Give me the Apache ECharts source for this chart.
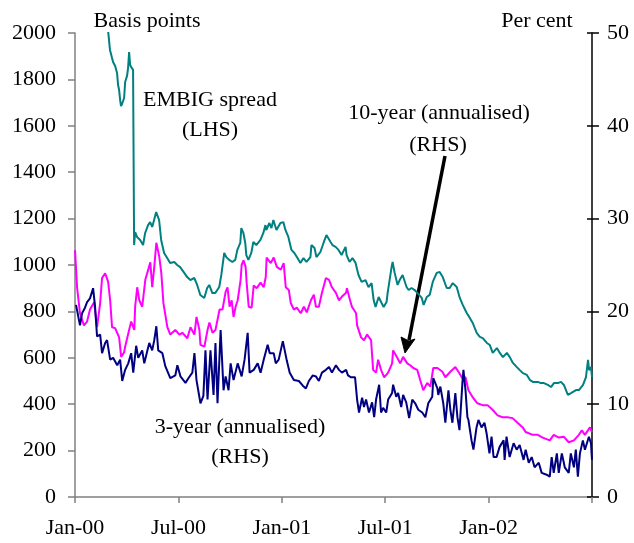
<!DOCTYPE html>
<html>
<head>
<meta charset="utf-8">
<script src="https://cdn.jsdelivr.net/npm/echarts@6/dist/echarts.min.js"></script>
<style>html,body{margin:0;padding:0;background:#fff}#c{width:634px;height:543px}</style>
</head>
<body>
<div id="c"></div>
<script>
// x = months since January 2000
var xTickLabels = ['Jan-00', 'Jul-00', 'Jan-01', 'Jul-01', 'Jan-02', ''];
var leftTickValues = [0, 200, 400, 600, 800, 1000, 1200, 1400, 1600, 1800, 2000];
var rightTickValues = [0, 10, 20, 30, 40, 50];

// EMBIG spread, basis points (LHS)
var embigSpread = [
[1.88,2040],[2.03,1927],[2.15,1892],[2.21,1875],[2.33,1858],[2.44,1828],[2.50,1776],[2.56,1754],[2.62,1711],[2.67,1685],[2.73,1694],[2.85,1720],[2.91,1789],[3.02,1815],[3.08,1849],[3.14,1918],[3.20,1862],[3.26,1853],[3.37,1841],[3.43,1086],
[3.49,1142],[3.60,1121],[3.78,1108],[3.95,1086],[4.07,1138],[4.24,1172],[4.36,1185],[4.48,1164],[4.59,1194],[4.71,1228],[4.88,1194],[5.00,1108],[5.17,1052],[5.35,1030],[5.52,1009],[5.76,1013],[5.93,1000],[6.10,991],[6.34,966],[6.51,948],[6.69,935],[6.92,944],[7.09,914],[7.27,871],[7.50,858],[7.67,901],[7.79,914],[7.97,879],[8.14,879],[8.37,905],[8.49,957],[8.66,1052],[8.78,1034],[8.95,1022],[9.13,1013],
[9.30,1022],[9.42,1065],[9.59,1095],[9.65,1159],[9.77,1138],[9.88,1095],[9.94,1043],[10.06,1022],[10.23,1052],[10.35,1099],[10.52,1086],[10.76,1108],[10.93,1138],[11.05,1172],[11.10,1151],[11.28,1181],[11.40,1159],[11.51,1194],[11.69,1151],[11.92,1181],[12.09,1185],[12.21,1151],[12.38,1121],[12.56,1065],[12.73,1052],[12.91,1030],[13.08,1009],[13.26,1030],[13.43,1013],[13.66,1034],[13.72,1086],[13.90,1073],[14.01,1034],[14.24,1056],[14.42,1095],[14.59,1129],[14.83,1099],[14.94,1086],[15.12,1078],[15.29,1065],[15.47,1043],[15.70,1078],[15.76,1043],[15.93,1013],[16.10,1030],[16.28,1009],[16.45,957],[16.63,927],[16.86,935],[17.03,905],[17.21,922],[17.33,849],[17.44,819],[17.62,862],[17.79,836],[17.91,819],[18.08,841],
[18.14,879],[18.37,991],[18.43,1013],[18.55,966],[18.72,914],[18.84,935],[19.01,957],[19.24,905],[19.36,892],[19.53,901],[19.71,892],[19.88,879],[20.12,858],[20.23,828],[20.41,862],[20.58,871],[20.76,927],[20.99,966],[21.16,970],[21.34,948],[21.57,901],[21.74,901],[21.92,922],[22.15,905],[22.33,858],[22.50,828],[22.73,793],[22.91,772],[23.08,750],[23.31,707],[23.49,690],[23.66,685],[23.90,664],[24.07,655],[24.24,621],[24.48,642],[24.65,621],[24.83,603],[25.06,621],[25.23,603],[25.41,578],[25.64,560],[25.81,547],[25.99,534],[26.22,526],[26.40,504],[26.57,496],[26.86,496],
[27.03,491],[27.21,491],[27.44,483],[27.62,474],[27.79,491],[28.02,491],[28.20,496],[28.37,483],[28.60,440],[28.78,448],[29.07,461],[29.24,461],[29.48,483],[29.65,517],[29.77,591],[29.83,547],[29.94,560],[30.0,517]
];

// 10-year (annualised), per cent (RHS)
var tenYear = [
[0,26.6],[0.12,22.6],[0.29,19.8],[0.52,18.5],[0.70,18.9],[0.87,20.2],[1.11,21.0],[1.28,18.3],[1.46,20.9],[1.57,23.6],[1.75,24.1],[1.92,23.2],[2.04,21.2],[2.15,18.3],[2.33,18.2],[2.56,17.2],[2.68,15.1],[2.85,15.6],[2.91,16.2],[3.14,18.0],[3.26,18.9],[3.44,18.0],[3.49,20.5],[3.61,22.6],[3.73,21.2],[3.90,20.5],[4.08,23.4],[4.25,24.5],[4.37,25.3],[4.48,22.6],[4.60,24.8],[4.72,27.4],[4.89,25.9],[5.01,24.1],[5.13,20.9],[5.36,18.3],[5.53,17.5],[5.82,18.0],[6.06,17.5],[6.23,17.7],[6.52,17.1],[6.70,18.3],[6.93,17.5],[7.05,19.4],[7.22,18.0],[7.28,16.4],[7.51,16.2],[7.69,18.0],[7.80,18.8],[7.98,17.7],[8.15,18.0],[8.39,20.2],[8.56,20.2],[8.74,22.1],[8.85,22.6],[8.97,20.5],
[9.09,21.2],[9.20,19.4],[9.32,20.5],[9.44,21.2],[9.61,23.4],[9.67,25.0],[9.78,25.5],[9.90,24.8],[9.96,23.1],[10.08,20.5],[10.25,20.4],[10.37,22.8],[10.54,22.5],[10.77,23.1],[10.95,22.6],[11.07,23.7],[11.12,25.8],[11.36,25.2],[11.53,25.8],[11.71,24.8],[11.94,24.5],[12.11,25.2],[12.23,22.6],[12.41,22.3],[12.52,20.9],[12.70,20.2],[12.87,20.4],[13.10,19.8],[13.28,20.5],[13.45,19.9],[13.69,21.2],[13.86,21.8],[13.98,20.5],[14.15,20.5],[14.33,22.0],[14.56,23.6],[14.74,23.4],[14.91,22.6],[15.14,22.0],[15.32,21.2],[15.49,21.6],[15.73,22.0],[15.78,22.5],[15.96,21.2],[16.07,20.5],[16.31,19.8],[16.37,18.5],[16.60,17.2],[16.77,16.9],[16.95,17.5],[17.18,16.9],[17.30,13.7],[17.47,13.4],[17.59,14.8],[17.76,13.7],[17.94,12.9],
[18.0,12.8],[18.17,13.4],[18.40,14.4],[18.46,15.8],[18.70,15.0],[18.87,14.4],[19.04,15.1],[19.28,14.4],[19.45,14.2],[19.63,13.9],[19.86,13.7],[20.03,12.6],[20.21,11.5],[20.44,12.3],[20.62,11.9],[20.79,13.9],[21.03,13.9],[21.32,13.5],[21.49,12.9],[21.78,13.5],[22.07,14.0],[22.25,13.5],[22.48,12.8],[22.66,12.9],[22.83,11.5],[23.06,10.8],[23.35,10.1],[23.65,9.9],[23.94,9.9],[24.23,9.4],[24.52,8.8],[24.81,8.6],[25.10,8.6],[25.39,8.5],[25.68,8.0],[25.98,7.5],[26.15,7.0],[26.56,6.7],[26.85,6.7],[27.14,6.4],[27.55,6.1],[27.78,6.7],[28.07,6.4],[28.36,6.5],[28.65,5.9],[28.95,6.1],[29.24,6.7],[29.41,7.2],[29.59,6.7],[29.88,7.5],[30.0,7.0]
];

// 3-year (annualised), per cent (RHS)
var threeYear = [
[0.06,20.7],[0.29,18.5],[0.41,19.8],[0.58,20.4],[0.70,21.0],[0.87,21.4],[1.05,22.5],[1.16,20.6],[1.28,17.3],[1.46,17.5],[1.57,15.5],[1.75,16.6],[1.86,16.9],[2.04,14.8],[2.21,15.0],[2.45,14.2],[2.62,14.8],[2.74,12.5],[2.91,13.7],[3.09,14.4],[3.26,15.5],[3.38,13.4],[3.55,16.3],[3.67,15.0],[3.90,15.8],[4.02,14.4],[4.19,15.7],[4.31,16.6],[4.48,15.8],[4.60,16.9],[4.72,18.4],[4.83,15.8],[5.07,15.5],[5.24,14.1],[5.53,12.8],[5.82,13.1],[5.94,14.2],[6.12,13.0],[6.41,12.3],[6.58,12.8],[6.81,13.4],[6.93,15.5],[7.05,12.6],[7.28,10.1],[7.45,10.9],[7.57,15.8],[7.69,10.5],[7.86,15.8],[8.04,11.0],[8.15,16.6],[8.27,10.1],[8.45,18.0],[8.62,11.5],[8.74,13.0],[8.91,11.5],[9.03,14.4],[9.20,12.6],[9.44,14.4],[9.67,13.0],[9.84,14.8],[10.02,17.7],[10.13,13.4],[10.37,13.7],[10.60,14.4],[10.77,13.4],[10.95,14.8],[11.18,16.4],[11.30,15.5],[11.53,15.5],[11.65,14.4],[11.82,14.8],[12.06,16.8],[12.17,16.6],[12.29,14.7],[12.46,13.4],[12.70,12.6],[12.99,12.5],[13.22,12.0],[13.40,11.7],[13.57,12.5],[13.80,13.1],[13.98,13.0],
[14.15,12.5],[14.33,13.4],[14.56,13.7],[14.74,14.0],[14.91,13.4],[15.14,14.2],[15.32,13.7],[15.49,13.4],[15.73,13.7],[15.84,13.1],[16.02,12.9],[16.13,13.1],[16.25,12.9],[16.37,10.5],[16.48,9.1],[16.66,10.7],[16.77,9.7],[16.89,10.5],[17.06,9.1],[17.24,10.2],[17.36,8.6],[17.47,10.5],[17.65,12.1],[17.76,9.1],[17.88,9.6],[18.06,9.1],[18.17,10.5],[18.40,11.2],[18.46,12.1],[18.64,10.8],[18.75,11.2],[18.93,9.7],[19.04,11.0],[19.22,10.2],[19.39,8.5],[19.57,10.5],[19.74,10.1],[19.92,9.4],[20.15,9.1],[20.33,8.6],[20.50,10.1],[20.73,10.8],[20.79,12.8],[21.03,11.7],[21.08,11.0],[21.20,11.9],[21.37,10.1],[21.49,8.0],[21.67,11.5],[21.78,9.4],[21.90,8.0],[22.07,11.2],[22.19,8.6],[22.31,7.2],[22.48,12.3],[22.54,13.7],[22.66,11.5],[22.77,8.6],[22.83,8.3],[23.01,6.1],[23.12,5.1],
[23.18,5.3],[23.30,7.5],[23.41,8.3],[23.59,7.5],[23.76,8.0],[23.88,6.9],[24.05,4.7],[24.17,6.5],[24.29,4.3],[24.46,4.3],[24.64,5.4],[24.87,6.1],[24.93,4.0],[25.04,6.5],[25.22,4.3],[25.45,5.8],[25.63,5.1],[25.80,5.6],[26.03,4.0],[26.15,5.1],[26.33,3.7],[26.50,4.3],[26.67,3.2],[26.91,3.7],[27.08,2.6],[27.37,2.4],[27.55,2.2],[27.66,4.3],[27.78,2.6],[27.96,4.7],[28.07,2.6],[28.25,4.7],[28.42,3.2],[28.65,2.6],[28.77,4.7],[28.95,3.2],[29.06,5.1],[29.18,2.2],[29.30,4.7],[29.47,6.1],[29.59,5.1],[29.82,6.5],[29.94,5.8],[30.0,4.0]
];

var FONT = '"Liberation Serif", "Times New Roman", serif';
var FS = 22;

var chart = echarts.init(document.getElementById('c'), null, {renderer: 'canvas'});
function txt(t, x, y) {
  return {type: 'text', x: x, y: y, silent: true,
    style: {text: t, fill: '#000', font: FS + 'px ' + FONT, align: 'center', verticalAlign: 'middle'}};
}
function plain(v) { return String(v); }
chart.setOption({
  animation: false,
  backgroundColor: '#fff',
  grid: {left: 75, right: 42, top: 33, bottom: 46, containLabel: false},
  xAxis: {
    type: 'value', min: 0, max: 30, interval: 6,
    axisLine: {show: true, onZero: false, lineStyle: {color: '#808080', width: 1.5}},
    axisTick: {show: true, inside: false, length: 6, lineStyle: {color: '#808080', width: 1.5}},
    axisLabel: {margin: 20, color: '#000', fontFamily: FONT, fontSize: FS,
      formatter: function (v) { return xTickLabels[Math.round(v / 6)] || ''; }},
    splitLine: {show: false}
  },
  yAxis: [
    {type: 'value', position: 'left', min: leftTickValues[0], max: leftTickValues[leftTickValues.length - 1], interval: 200,
      axisLine: {show: true, lineStyle: {color: '#808080', width: 1.5}},
      axisTick: {show: true, length: 7, lineStyle: {color: '#808080', width: 1.5}},
      axisLabel: {margin: 19, color: '#000', fontFamily: FONT, fontSize: FS, formatter: plain},
      splitLine: {show: false}},
    {type: 'value', position: 'right', min: rightTickValues[0], max: rightTickValues[rightTickValues.length - 1], interval: 10,
      axisLine: {show: true, lineStyle: {color: '#000', width: 1.5}},
      axisTick: {show: true, length: 7, lineStyle: {color: '#000', width: 1.5}},
      axisLabel: {margin: 15, color: '#000', fontFamily: FONT, fontSize: FS, formatter: plain},
      splitLine: {show: false}},
    {type: 'value', position: 'right', min: 0, max: 50, interval: 10,
      axisLine: {show: false},
      axisTick: {show: true, inside: true, length: 5, lineStyle: {color: '#000', width: 1.5}},
      axisLabel: {show: false},
      splitLine: {show: false}}
  ],
  series: [
    {name: 'EMBIG spread (LHS)', type: 'line', yAxisIndex: 0, data: embigSpread, showSymbol: false, clip: true,
      lineStyle: {color: '#008080', width: 2}, itemStyle: {color: '#008080'}},
    {name: '10-year (annualised) (RHS)', type: 'line', yAxisIndex: 1, data: tenYear, showSymbol: false, clip: true,
      lineStyle: {color: '#FF00FF', width: 2}, itemStyle: {color: '#FF00FF'}},
    {name: '3-year (annualised) (RHS)', type: 'line', yAxisIndex: 1, data: threeYear, showSymbol: false, clip: true,
      lineStyle: {color: '#000080', width: 2}, itemStyle: {color: '#000080'}}
  ],
  graphic: [
    txt('Basis points', 147, 21),
    txt('Per cent', 537, 21),
    txt('EMBIG spread', 210, 100),
    txt('(LHS)', 210, 130),
    txt('10-year (annualised)', 439, 113),
    txt('(RHS)', 438, 145),
    txt('3-year (annualised)', 240, 427),
    txt('(RHS)', 240, 457),
    {type: 'line', silent: true, shape: {x1: 445, y1: 156, x2: 409, y2: 340},
      style: {stroke: '#000', lineWidth: 3.5}},
    {type: 'polygon', silent: true, shape: {points: [[405, 353], [401, 337], [409, 341], [415, 339]]},
      style: {fill: '#000', stroke: '#000', lineWidth: 1}}
  ]
});
</script>
</body>
</html>
